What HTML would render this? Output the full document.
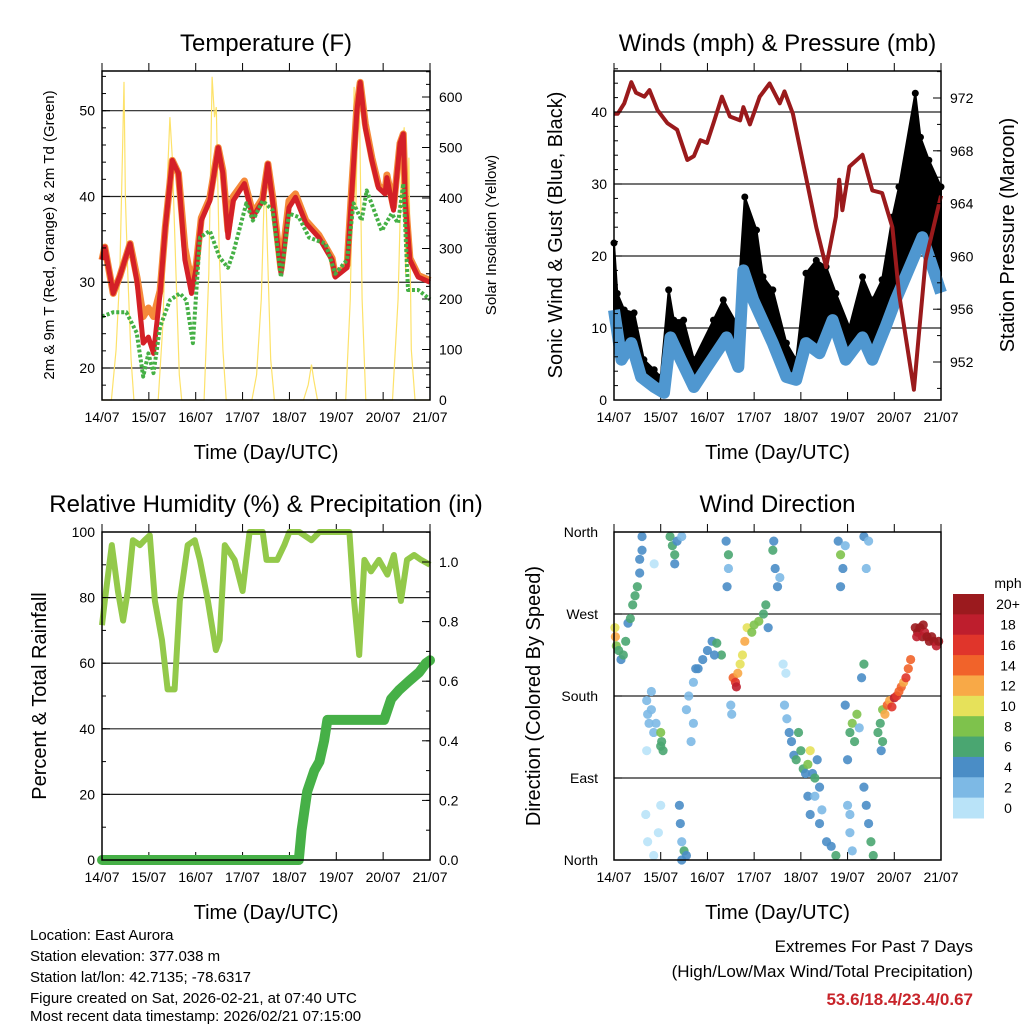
<!DOCTYPE html>
<html><head><meta charset="utf-8">
<style>
html,body{margin:0;padding:0;background:#fff;}
svg{display:block;font-family:"Liberation Sans",sans-serif;}
</style></head>
<body>
<svg id="chart" width="1024" height="1024" viewBox="0 0 1024 1024" xmlns="http://www.w3.org/2000/svg">
<rect x="0" y="0" width="1024" height="1024" fill="#fff"/>
<g id="g1"></g>
<g id="g2"></g>
<g id="g3"></g>
<g id="g4"></g>
<g id="cb"></g>
<g font-size="15" fill="#000">
<text x="30" y="940">Location: East Aurora</text>
<text x="30" y="961">Station elevation: 377.038 m</text>
<text x="30" y="982">Station lat/lon: 42.7135; -78.6317</text>
<text x="30" y="1003">Figure created on Sat, 2026-02-21, at 07:40 UTC</text>
<text x="30" y="1024" dy="-3">Most recent data timestamp: 2026/02/21 07:15:00</text>
</g>
<g font-size="17" text-anchor="end">
<text x="973" y="952">Extremes For Past 7 Days</text>
<text x="973" y="977">(High/Low/Max Wind/Total Precipitation)</text>
<text x="973" y="1005" fill="#c8242a" font-weight="bold">53.6/18.4/23.4/0.67</text>
</g>
</svg>
<script>
// ---------- data ----------
const dayLabels = ["14/07","15/07","16/07","17/07","18/07","19/07","20/07","21/07"];
const tempT = [0,0.06,0.24,0.38,0.6,0.75,0.88,0.99,1.1,1.24,1.35,1.5,1.63,1.77,1.91,2.01,2.12,2.3,2.48,2.58,2.69,2.8,3.04,3.22,3.43,3.54,3.64,3.82,3.99,4.13,4.35,4.63,4.91,4.98,5.23,5.33,5.44,5.51,5.62,5.76,5.9,6.04,6.08,6.22,6.36,6.43,6.47,6.57,6.75,7.0];
const tempRed = [32.6,34.1,28.7,30.7,34.5,30,22.9,23.6,21.7,28.7,36.4,44.2,42.7,32.6,28.7,31.7,37.2,39.5,45.7,42.7,35.2,39.5,41.5,37.6,39.5,43.8,39.5,31,38.7,39.9,36.9,35.2,32.6,30.6,31.7,40.3,50,53.3,48,44.2,41,40.3,42.2,38.4,46.2,47.3,39.5,32.6,30.6,30];
const tempOrange = [32.6,34.1,28.7,30.7,34.5,30.5,26,27,26,29,36.4,44.2,42.7,34,30,32,37.5,39.8,45.7,43,36,40,41.8,38,39.8,43.8,40,31.5,39.5,40.3,37.2,35.5,32.8,30.8,32,41,50.5,53.3,48.5,44.5,41.3,40.5,42.5,38.8,46.2,47.3,40,32.8,30.8,30.2];
const dewT = [0,0.24,0.52,0.74,0.88,0.99,1.1,1.24,1.45,1.66,1.8,1.94,2.09,2.3,2.51,2.69,2.8,3.08,3.22,3.43,3.64,3.82,3.99,4.2,4.42,4.77,4.98,5.23,5.37,5.54,5.65,5.97,6.18,6.32,6.43,6.53,6.75,7.0];
const dewVals = [26,26.5,26.5,24.1,19,21.7,19.4,24.8,27.9,28.7,27.9,22.9,35.2,36,32.9,31.7,33.4,39.2,37.2,39.5,38.4,30.6,38,37.6,35.2,34.5,31,32.6,39.2,37.2,40.7,36,38,36.9,41.5,29.1,29.1,28];
const solarT = [0,0.2,0.3,0.38,0.44,0.47,0.5,0.55,0.62,0.68,1.2,1.3,1.4,1.45,1.5,1.58,1.65,1.7,2.18,2.28,2.35,2.4,2.44,2.5,2.58,2.65,3.2,3.3,3.4,3.48,3.53,3.6,3.68,4.3,4.4,4.47,4.52,4.6,5.2,5.3,5.38,5.42,5.46,5.5,5.55,5.63,6.2,6.32,6.4,6.45,6.48,6.55,6.6,6.68,7.0];
const solarVals = [0,0,100,250,500,630,400,250,80,0,0,150,450,560,480,250,50,0,0,250,640,560,580,300,100,0,0,50,200,470,300,80,0,0,30,70,40,0,0,200,620,380,600,550,200,0,0,200,500,540,250,480,100,0,0];
const presT = [0,0.08,0.22,0.37,0.47,0.65,0.76,0.93,1.14,1.35,1.57,1.71,1.85,1.99,2.13,2.31,2.48,2.7,2.77,2.91,3.12,3.33,3.55,3.65,3.83,4.11,4.33,4.54,4.75,4.82,4.89,5.04,5.32,5.53,5.74,5.96,6.1,6.42,6.53,6.67,7.0];
const presVals = [970.8,970.8,971.6,973.2,972.4,972.1,972.6,971.1,970.1,969.6,967.3,967.6,968.8,968.6,970.1,972.1,970.6,970.3,971.3,970,972.1,973.1,971.6,972.5,970.8,966,962.2,959.2,963,965.8,963.5,966.8,967.7,965,964.8,962.2,957.2,949.9,954.2,959.7,964.6];
const windT = [0,0.16,0.37,0.58,0.86,1.07,1.21,1.43,1.71,1.99,2.41,2.66,2.77,2.98,3.4,3.69,3.9,4.11,4.4,4.68,4.96,5.32,5.53,5.81,6.03,6.24,6.6,6.77,7.0];
const sonicVals = [12.5,5.6,7.9,3.2,1.8,1,8.7,5.6,1.8,4.6,8.7,4.6,18,13.9,7.9,3.2,2.8,7.9,6.5,11.1,5.6,8.7,5.6,10.1,13.9,17.1,22.6,19.4,14.9];
const gustT = [0,0.07,0.22,0.43,0.64,0.86,1.0,1.17,1.28,1.49,1.71,2.13,2.34,2.62,2.8,3.05,3.19,3.4,3.69,3.9,4.11,4.33,4.54,4.75,5.04,5.32,5.53,5.74,5.96,6.1,6.45,6.56,6.74,7.0];
const gustVals = [21.8,14.8,12.5,12.1,5.6,4.2,3.2,15.3,11.1,11.1,5.6,11.1,13.9,10.7,28.2,23.6,17.1,15.3,7.9,5.6,17.6,19.4,18.5,14.8,10.1,17.1,13.9,16.7,25.4,29.6,42.6,36.5,33.3,29.6];
const rhT = [0,0.06,0.21,0.34,0.45,0.55,0.66,0.81,0.91,1.02,1.13,1.28,1.4,1.55,1.66,1.83,1.98,2.09,2.26,2.43,2.51,2.62,2.83,3.0,3.15,3.43,3.51,3.74,3.89,4.0,4.21,4.47,4.64,5.28,5.38,5.49,5.6,5.74,5.91,6.09,6.23,6.38,6.51,6.66,6.81,7.0];
const rhVals = [71.6,79,96,82,73,82,97.5,96,97.5,99,79,67,52,52,79,96,97.5,91.5,79,64,67,96,91.5,82,100,100,91.5,91.5,96,100,100,97.5,100,100,79,62.5,91.5,88,91.5,87,93,79,91.5,93,91.5,90];
const rainT = [0,4.2,4.26,4.38,4.53,4.64,4.74,4.81,6.02,6.17,6.34,6.55,6.77,6.91,7.0];
const rainVals = [0,0,0.1,0.23,0.3,0.33,0.4,0.47,0.47,0.54,0.57,0.6,0.63,0.66,0.67];
const dirT = [0.02,0.03,0.05,0.1,0.15,0.2,0.25,0.3,0.35,0.4,0.45,0.5,0.55,0.55,0.6,0.6,0.7,0.72,0.75,0.8,0.85,0.8,0.9,0.7,1.0,1.02,1.05,1.0,0.68,0.72,0.85,0.95,1.0,1.4,1.42,1.45,1.5,1.55,1.45,0.86,1.2,1.25,1.3,1.3,1.35,1.45,1.55,1.6,1.7,1.8,1.9,2.0,2.1,2.2,2.3,1.7,1.65,1.75,2.15,2.4,2.45,2.45,2.42,2.55,2.6,2.62,2.65,2.7,2.75,2.8,2.85,2.95,3.0,3.1,3.2,3.25,3.3,2.5,2.52,3.4,3.45,3.5,3.55,3.42,3.62,3.68,3.65,3.7,3.75,3.8,3.85,3.9,3.95,4.0,4.05,4.1,4.15,4.2,4.25,4.3,4.35,4.4,4.15,4.2,4.3,4.4,4.45,4.55,4.65,4.75,4.8,4.85,4.9,4.95,4.85,4.95,5.05,5.1,5.15,5.2,5.25,5.0,5.0,5.05,5.1,5.05,5.35,5.4,5.45,5.5,5.55,5.35,5.45,5.4,5.35,5.3,5.65,5.7,5.75,5.8,5.85,5.9,5.95,6.0,6.05,6.1,6.15,6.2,6.25,6.3,6.35,5.75,5.72,6.45,6.5,6.55,6.6,6.65,6.7,6.75,6.8,6.85,6.9,6.95,6.48,6.62];
const dirVals = [255,245,235,230,220,225,240,260,265,280,290,300,315,330,340,355,175,160,150,165,140,185,150,120,140,130,120,125,50,20,5,30,60,60,40,20,10,5,0,325,355,345,335,325,350,355,165,180,195,210,220,230,240,238,225,150,130,210,225,350,335,320,300,200,195,190,205,215,225,240,255,250,258,262,270,280,255,170,160,340,320,300,310,350,215,205,170,155,140,130,115,110,140,120,100,95,105,120,95,90,110,80,70,50,70,40,55,20,15,5,350,335,320,345,300,170,140,150,130,160,145,110,60,30,10,50,80,60,40,20,5,355,350,320,215,200,140,150,165,160,170,175,168,178,180,185,190,195,200,210,220,130,120,255,250,255,245,250,245,240,245,240,235,240,245,258];
const dirSpeed = [10,12,8,6,4,6,6,4,6,6,6,6,4,4,4,4,2,2,2,2,2,2,2,1,8,7,6,6,1,1,1,1,0,4,4,3,6,4,5,0,6,6,6,4,4,3,2,3,3,4,4,4,4,6,7,2,2,4,5,4,6,3,4,14,16,18,12,10,10,12,10,8,9,8,6,7,4,2,2,6,4,4,3,4,1,1,2,3,4,5,4,6,7,6,6,5,8,10,4,6,5,4,4,4,3,4,3,4,4,6,4,9,4,3,4,4,6,8,7,8,2,4,3,2,2,2,4,4,5,6,7,4,3,2,6,4,6,7,8,12,14,12,16,18,16,14,14,12,16,14,14,6,5,20,20,20,20,18,20,20,20,20,18,20,18,20];
const speedLabels = ["20+","18","16","14","12","10","8","6","4","2","0"];
const speedColors = ["#9b1a1e","#be1e2d","#e0352b","#f1632a","#f8a947","#e6e15a","#7ec24c","#4aa671","#4a8dc6","#7db9e5","#b9e3f8"];

// ---------- helpers ----------
const NS = "http://www.w3.org/2000/svg";
function mk(parent, tag, attrs){const e=document.createElementNS(NS,tag);for(const k in attrs)e.setAttribute(k,attrs[k]);parent.appendChild(e);return e;}
function txt(parent, s, attrs){const e=mk(parent,"text",attrs);e.textContent=s;return e;}
function lin(d0,d1,r0,r1){return v=>r0+(v-d0)*(r1-r0)/(d1-d0);}
function pathOf(xs,ys,fx,fy){return xs.map((t,i)=>(i?"L":"M")+fx(t).toFixed(1)+","+fy(ys[i]).toFixed(1)).join("");}

function frame(g, L, R, T, B, title, xlabY){
  let e;
  e=txt(g,title,{x:(L+R)/2,y:T-20,"font-size":24,"text-anchor":"middle"});
  
  
  const fx=lin(0,7,L,R);
  dayLabels.forEach((d,i)=>{
    const x=fx(i);
    e=mk(g,"line",{x1:x,x2:x,y1:B,y2:B-8,stroke:"#000","stroke-width":1});
    
    
    e=mk(g,"line",{x1:x,x2:x,y1:T,y2:T-8,stroke:"#000","stroke-width":1});
    
    
    e=txt(g,d,{x:x,y:B+22,"font-size":14,"text-anchor":"middle"});
    
    
  });
  e=txt(g,"Time (Day/UTC)",{x:(L+R)/2,y:xlabY,"font-size":20,"text-anchor":"middle"});
  
  
  return fx;
}
function border(g,L,R,T,B){
  const e=mk(g,"rect",{x:L,y:T,width:R-L,height:B-T,fill:"none",stroke:"#000","stroke-width":1.5});
  
  
}
function yAxis(g, side, X, vals, fy, fmt, minor){
  vals.forEach(v=>{
    const y=fy(v);
    let e=mk(g,"line",{x1:X,x2:side<0?X+8:X-8,y1:y,y2:y,stroke:"#000","stroke-width":1});
    
    
    e=txt(g,fmt(v),{x:side<0?X-7:X+9,y:y+5,"font-size":14,"text-anchor":side<0?"end":"start"});
    
    
  });
  (minor||[]).forEach(v=>{
    const y=fy(v);
    const e=mk(g,"line",{x1:X,x2:side<0?X+4:X-4,y1:y,y2:y,stroke:"#000","stroke-width":1});
    
    
  });
}
function grid(g,L,R,ys){
  ys.forEach(y=>{const e=mk(g,"line",{x1:L,x2:R,y1:y,y2:y,stroke:"#222","stroke-width":1.2});
    
    });
}
function vtitle(g,s,x,y,size,name){
  const e=txt(g,s,{x:x,y:y,"font-size":size,"text-anchor":"middle",transform:`rotate(-90 ${x} ${y})`});
  
  
}
function range(a,b,s){const r=[];for(let v=a;v<=b+1e-9;v+=s)r.push(+v.toFixed(4));return r;}

// ---------- panel 1 temperature ----------
(function(){
  const g=document.getElementById("g1");const L=102,R=430,T=71,B=400;
  const fx=frame(g,L,R,T,B,"Temperature (F)",459);
  const fy=lin(20,50,368,110.7), fs=lin(0,600,400,97);
  grid(g,L,R,[20,30,40,50].map(fy));
  let e=mk(g,"path",{d:pathOf(solarT,solarVals,fx,fs),fill:"none",stroke:"#fde26a","stroke-width":1.2});
  
  
  e=mk(g,"path",{d:pathOf(tempT,tempOrange,fx,fy),fill:"none",stroke:"#f58a3a","stroke-width":7,"stroke-linejoin":"round"});
  
  
  e=mk(g,"path",{d:pathOf(tempT,tempRed,fx,fy),fill:"none",stroke:"#d42027","stroke-width":5,"stroke-linejoin":"round"});
  
  
  e=mk(g,"path",{d:pathOf(dewT,dewVals,fx,fy),fill:"none",stroke:"#45b045","stroke-width":4,"stroke-dasharray":"3 2","stroke-linejoin":"round"});
  
  
  border(g,L,R,T,B);
  yAxis(g,-1,L,[20,30,40,50],fy,v=>v,range(18,54,2));
  yAxis(g,1,R,[0,100,200,300,400,500,600],fs,v=>v,range(0,650,25));
  vtitle(g,"2m & 9m T (Red, Orange) & 2m Td (Green)",54,235,15,"left-y-axis-title");
  vtitle(g,"Solar Insolation (Yellow)",496,235,15,"right-y-axis-title");
})();

// ---------- panel 2 winds ----------
(function(){
  const g=document.getElementById("g2");const L=614,R=941,T=71,B=400;
  const fx=frame(g,L,R,T,B,"Winds (mph) & Pressure (mb)",459);
  const fy=lin(0,40,400,112), fp=lin(952,972,362,98);
  grid(g,L,R,[10,20,30,40].map(fy));
  const area = pathOf(gustT,gustVals,fx,fy)+pathOf(windT.slice().reverse(),sonicVals.slice().reverse(),fx,fy).replace(/^M/,"L")+"Z";
  let e=mk(g,"path",{d:area,fill:"#000",stroke:"#000","stroke-width":2});
  
  
  gustT.forEach((t,i)=>{
    const c=mk(g,"circle",{cx:fx(t),cy:fy(gustVals[i]),r:3.5,fill:"#000"});
    
    
  });
  e=mk(g,"path",{d:pathOf(windT,sonicVals,fx,fy),fill:"none",stroke:"#4f97d0","stroke-width":12,"stroke-linejoin":"round"});
  
  
  e=mk(g,"path",{d:pathOf(presT,presVals,fx,fp),fill:"none",stroke:"#9a1a1c","stroke-width":4,"stroke-linejoin":"round"});
  
  
  border(g,L,R,T,B);
  yAxis(g,-1,L,[0,10,20,30,40],fy,v=>v,range(0,46,2));
  yAxis(g,1,R,[952,956,960,964,968,972],fp,v=>v,range(950,974,2));
  vtitle(g,"Sonic Wind & Gust (Blue, Black)",562,235,20,"left-y-axis-title");
  vtitle(g,"Station Pressure (Maroon)",1014,235,20,"right-y-axis-title");
})();

// ---------- panel 3 humidity ----------
(function(){
  const g=document.getElementById("g3");const L=102,R=430,T=532,B=860;
  const fx=frame(g,L,R,T,B,"Relative Humidity (%) & Precipitation (in)",919);
  const fy=lin(0,100,860,532), fr=lin(0,1,860,562);
  grid(g,L,R,[20,40,60,80].map(fy));
  let e=mk(g,"path",{d:pathOf(rhT,rhVals,fx,fy),fill:"none",stroke:"#93c94a","stroke-width":6,"stroke-linejoin":"round"});
  
  
  e=mk(g,"path",{d:pathOf(rainT,rainVals,fx,fr),fill:"none",stroke:"#46b047","stroke-width":10,"stroke-linejoin":"round","stroke-linecap":"round"});
  
  
  border(g,L,R,T,B);
  yAxis(g,-1,L,[0,20,40,60,80,100],fy,v=>v,range(0,100,10));
  yAxis(g,1,R,[0,0.2,0.4,0.6,0.8,1.0],fr,v=>v.toFixed(1),range(0,1.1,0.1));
  vtitle(g,"Percent & Total Rainfall",46,696,20,"left-y-axis-title");
})();

// ---------- panel 4 wind direction ----------
(function(){
  const g=document.getElementById("g4");const L=614,R=941,T=532,B=860;
  const fx=frame(g,L,R,T,B,"Wind Direction",919);
  const fy=lin(0,360,860,532);
  grid(g,L,R,[90,180,270].map(fy));
  function col(s){const i=Math.min(10,Math.floor(s/2));return speedColors[10-i];}
  dirT.forEach((t,i)=>{
    const c=mk(g,"circle",{cx:fx(t),cy:fy(dirVals[i]),r:4.6,fill:col(dirSpeed[i]),"fill-opacity":0.9});
    
    
  });
  border(g,L,R,T,B);
  const names=["North","East","South","West","North"];
  [0,90,180,270,360].forEach((v,i)=>{
    let e=mk(g,"line",{x1:L,x2:L+8,y1:fy(v),y2:fy(v),stroke:"#000"});
    
    
    e=txt(g,names[i],{x:L-16,y:fy(v)+5,"font-size":14,"text-anchor":"end"});
    
    
  });
  vtitle(g,"Direction (Colored By Speed)",540,696,20,"left-y-axis-title");
})();

// ---------- colorbar ----------
(function(){
  const g=document.getElementById("cb");const top=594,h=(818-594)/11;
  let e=txt(g,"mph",{x:1008,y:588,"font-size":14,"text-anchor":"middle"});
  
  
  speedLabels.forEach((s,i)=>{
    e=mk(g,"rect",{x:953,y:top+i*h,width:31,height:h+0.5,fill:speedColors[i]});
    
    
    e=txt(g,s,{x:1008,y:top+i*h+h/2+5,"font-size":14,"text-anchor":"middle"});
    
    
  });
})();
</script>
</body></html>
